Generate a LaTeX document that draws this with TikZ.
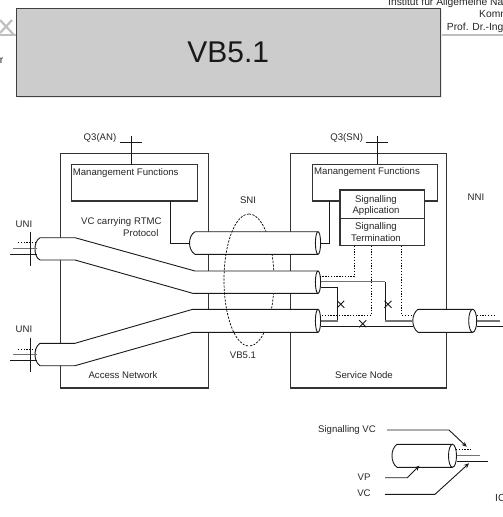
\documentclass[tikz,border=0pt]{standalone}
\usepackage{fontspec}
\setmainfont{Liberation Sans}
\usetikzlibrary{arrows.meta,calc}
\tikzset{
  lbl/.style={inner sep=0pt,text=black!85,font=\fontsize{9.6}{11}\selectfont},
  hdr/.style={inner sep=0pt,anchor=west,text=black!85,font=\fontsize{10.3}{12}\selectfont},
  boxa/.style={draw=black!80,line width=1.1pt,fill=white,anchor=north west,inner sep=0pt,outer sep=0pt},
  tube/.style={draw=black!90,line width=0.9pt,fill=white},
  wire/.style={draw=black!90,line width=0.9pt},
  gwire/.style={draw=black!55,line width=1.5pt},
  dots/.style={draw=black,line width=0.9pt,dash pattern=on 1.3pt off 1.5pt},
  sniring/.style={draw=black,line width=0.7pt,dash pattern=on 2.2pt off 1.3pt},
  note/.style={draw=black!90,line width=0.9pt,-{Stealth[length=5pt,width=4.5pt]}}
}
\newcommand{\xmark}[1]{\draw[wire] ($(#1)+(-3.5,-3.5)$) -- ($(#1)+(3.5,3.5)$) ($(#1)+(-3.5,3.5)$) -- ($(#1)+(3.5,-3.5)$);}
\begin{document}
\begin{tikzpicture}[x=1pt,y=-1pt]
\useasboundingbox (0,0) rectangle (503,517);
\clip (0,0) rectangle (503,517);
\fill[white] (0,0) rectangle (503,517);
% header
\draw[black!25,line width=2pt] (0,35) -- (16,35) (440,35) -- (503,35);
\draw[black!25,line width=2.2pt] (0,20) -- (14,35) (12,20) -- (0,33);
\node[hdr] (inst) at (388,3) {Institut für Allgemeine Na};
\node[hdr] (komm) at (479,14.5) {Komm};
\node[hdr] (prof) at (446.7,27.5) {Prof. Dr.-Ing};
\node[hdr,anchor=east] (rr) at (3.5,60.5) {r};
\fill[black!8] (18,10) rectangle (441.5,98);
\node[draw=black!75,line width=1pt,fill=black!20,anchor=north west,minimum width=423.5pt,minimum height=88.5pt,inner sep=0pt,
  font=\fontsize{30}{34}\selectfont,text=black!90] (title) at (16,7.5) {VB5.1\hspace{3pt}};
% main boxes
\node[boxa,minimum width=148.2pt,minimum height=234.5pt] (an) at (60.5,153.5) {};
\node[boxa,minimum width=156pt,minimum height=234.7pt] (sn) at (290.3,153.3) {};
\node[boxa,minimum width=126pt,minimum height=36.5pt] (mfa) at (71.7,164.5) {};
\node[boxa,minimum width=125.4pt,minimum height=36.7pt] (mfs) at (312.3,164.3) {};
\node[boxa,minimum width=84.3pt,minimum height=28.3pt] (sapp) at (340,190) {};
\node[boxa,minimum width=84.3pt,minimum height=27.4pt] (sterm) at (340,218.3) {};
% coordinates
\coordinate (mfaout) at (170,201);
\coordinate (mfsout) at (329.3,201);
\coordinate (rtmcl) at (190,243);
\coordinate (qan) at (131.3,164.5);
\coordinate (qant) at (131.3,135.7);
\coordinate (qsn) at (377.3,164.3);
\coordinate (qsnt) at (377.3,135.7);
% Q3 crosses
\draw[wire] (qan) -- (qant) (120,142.7) -- (142.3,142.7);
\draw[wire] (qsn) -- (qsnt) (365.7,142.7) -- (388,142.7);
% SNI ring, far half
\draw[sniring] (249,214) arc[start angle=90,end angle=-90,x radius=25pt,y radius=66pt];
% tubes
\draw[tube] (40,237.7) .. controls (36,240) and (35,245) .. (35,249) .. controls (35,253) and (36,258) .. (40,260)
  -- (75,260) -- (192.7,293.3) -- (318,293.3) -- (318,271) -- (195,271) -- (75,237.7) -- cycle;
\draw[tube] (40,343.3) .. controls (36,346) and (35,351) .. (35,354.5) .. controls (35,358) and (36,363) .. (40,365.7)
  -- (75,365.7) -- (192.7,332.3) -- (318,332.3) -- (318,309.3) -- (192.7,309.3) -- (75,343.3) -- cycle;
\draw[tube] (195,231.7) .. controls (191,234) and (189.5,239) .. (189.5,243) .. controls (189.5,247) and (191,252) .. (195,254.3)
  -- (318,254.3) -- (318,231.7) -- cycle;
\draw[tube] (418,309.3) .. controls (414.5,312) and (412.8,316) .. (412.8,320.8) .. controls (412.8,325) and (414.5,330) .. (418,332.3)
  -- (472.7,332.3) -- (472.7,309.3) -- cycle;
\draw[tube] (318,243) ellipse[x radius=2.6pt,y radius=11.3pt];
\draw[tube] (318,282.2) ellipse[x radius=2.6pt,y radius=11.2pt];
\draw[tube] (318,320.8) ellipse[x radius=2.6pt,y radius=11.5pt];
\draw[tube] (472.7,320.8) ellipse[x radius=4pt,y radius=11.5pt];
% SNI ring, near half
\draw[sniring] (249,214) arc[start angle=90,end angle=270,x radius=25pt,y radius=66pt];
% RTMC connectors
\draw[wire] (mfaout) |- (rtmcl);
\draw[wire] (mfsout) |- (320.6,243);
% UNI ends
\draw[dots] (18,242.3) -- (35,242.3);
\draw[gwire] (13,248.3) -- (37,248.3);
\draw[wire] (10,254) -- (37,254);
\draw[wire] (30.3,231.7) -- (30.3,265.7);
\draw[dots] (18,349) -- (35,349);
\draw[gwire] (13,354.7) -- (37,354.7);
\draw[wire] (10,360) -- (37,360);
\draw[wire] (30.3,337.7) -- (30.3,371.7);
% signalling
\coordinate (t1) at (354.3,245.7);
\coordinate (t2) at (371.3,245.7);
\coordinate (t3) at (401.7,245.7);
\draw[dots] (t1) |- (320,276.7);
\draw[dots] (t2) |- (320.6,315.3);
\draw[dots] (t3) |- (413,315.3);
% cross connects
\draw[gwire] (320.6,281.7) -- (385,281.7);
\draw[wire] (385,281.7) -- (385,321);
\draw[gwire] (385,321) -- (413,321);
\draw[wire] (320.6,287.7) -- (337.7,287.7) -- (337.7,321);
\draw[gwire] (320.6,321) -- (337.7,321);
\draw[wire] (320.6,326.5) -- (413,326.5);
\coordinate (x1) at (340.7,304.3);
\coordinate (x2) at (388,304.3);
\coordinate (x3) at (362.7,323.7);
\xmark{x1}
\xmark{x2}
\xmark{x3}
% NNI end
\draw[dots] (476.7,315.3) -- (495,315.3);
\draw[gwire] (476.7,321) -- (500,321);
\draw[wire] (476.7,326.7) -- (502.7,326.7);
% legend
\draw[tube] (397,444.3) .. controls (393.5,447) and (392,451) .. (392,455.8) .. controls (392,460) and (393.5,465) .. (397,467.3)
  -- (452.5,467.3) -- (452.5,444.3) -- cycle;
\draw[tube] (452.5,455.8) ellipse[x radius=4pt,y radius=11.5pt];
\draw[dots] (456,449) -- (472,449);
\draw[gwire] (456.7,455.7) -- (480,455.7);
\draw[wire] (456.7,461.7) -- (487.7,461.7);
% labels
\node[lbl] (q1) at (100,138) {Q3(AN)};
\node[lbl] (q2) at (346.7,138) {Q3(SN)};
\node[lbl,anchor=west] (m1) at (72.7,173.5) {Manangement Functions};
\node[lbl,anchor=west] (m2) at (314,172.5) {Manangement Functions};
\node[lbl] (sa1) at (376,200) {Signalling};
\node[lbl] (sa2) at (376,211) {Application};
\node[lbl] (st1) at (376,227) {Signalling};
\node[lbl] (st2) at (376,238.5) {Termination};
\node[lbl,anchor=west] (vc1) at (81,221.7) {VC carrying RTMC};
\node[lbl,anchor=west] (vc2) at (123,232.7) {Protocol};
\node[lbl] (uni1) at (24,224) {UNI};
\node[lbl] (uni2) at (24,329.5) {UNI};
\node[lbl] (sni) at (248,200) {SNI};
\node[lbl] (nni) at (476,197) {NNI};
\node[lbl] (vb) at (243,355.5) {VB5.1};
\node[lbl] (acc) at (123,375) {Access Network};
\node[lbl] (svc) at (364,375) {Service Node};
\node[lbl,anchor=west] (l1) at (318,430) {Signalling VC};
\node[lbl] (l2) at (364,476.7) {VP};
\node[lbl] (l3) at (364,493.5) {VC};
\node[hdr] (ic) at (495,498) {IC};
% legend leaders
\coordinate (a1) at (466.7,446.7);
\coordinate (a2) at (419.3,465.7);
\coordinate (a3) at (469,463.3);
\draw[note] (387,430) -- (449,430) -- (a1);
\draw[note] (385,477.7) -- (407.3,477.7) -- (a2);
\draw[note] (385,494.3) -- (435,494.3) -- (a3);
\end{tikzpicture}
\end{document}
